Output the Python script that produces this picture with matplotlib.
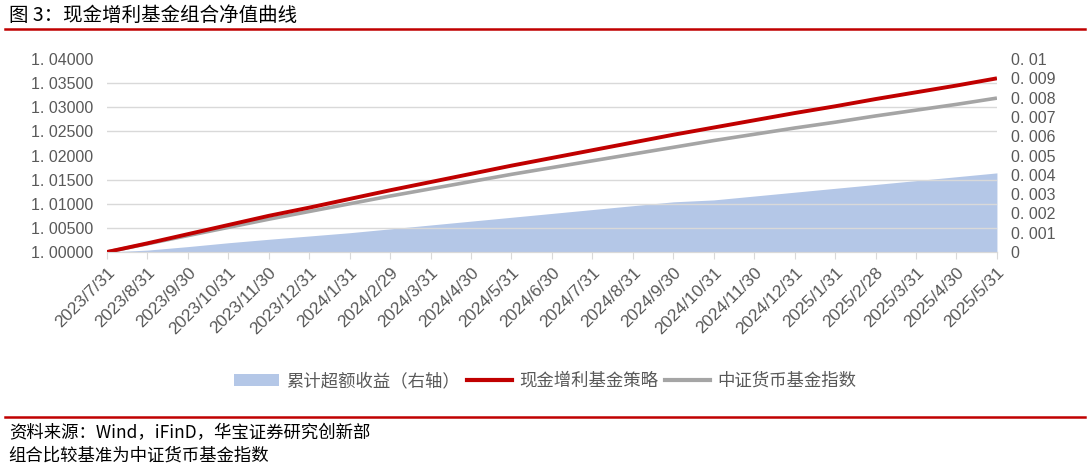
import matplotlib
matplotlib.use("Agg")
import matplotlib.pyplot as plt
from matplotlib.lines import Line2D
from matplotlib.patches import Patch
from matplotlib.ticker import FuncFormatter
import numpy as np

plt.rcParams['font.family'] = ['Liberation Sans', 'Noto Sans CJK SC', 'DejaVu Sans']
CJK = ['Noto Sans CJK SC', 'DejaVu Sans']

# month-end dates on the x axis
dates = ["2023/7/31", "2023/8/31", "2023/9/30", "2023/10/31", "2023/11/30",
         "2023/12/31", "2024/1/31", "2024/2/29", "2024/3/31", "2024/4/30",
         "2024/5/31", "2024/6/30", "2024/7/31", "2024/8/31", "2024/9/30",
         "2024/10/31", "2024/11/30", "2024/12/31", "2025/1/31", "2025/2/28",
         "2025/3/31", "2025/4/30", "2025/5/31"]

# net values (left axis)
strategy = [1.0000, 1.0018, 1.0037, 1.0056, 1.0075, 1.0092, 1.0110, 1.0128,
            1.0145, 1.0162, 1.0179, 1.0195, 1.0211, 1.0227, 1.0243, 1.0258,
            1.0273, 1.0288, 1.0302, 1.0317, 1.0331, 1.0345, 1.0360]
index = [1.0000, 1.0017, 1.0034, 1.0051, 1.0068, 1.0084, 1.0100, 1.0116,
         1.0131, 1.0146, 1.0161, 1.0175, 1.0189, 1.0203, 1.0217, 1.0231,
         1.0244, 1.0257, 1.0269, 1.0282, 1.0294, 1.0306, 1.0319]
# cumulative excess return (right axis)
excess = [0.0, 0.0001, 0.00028, 0.00048, 0.00066, 0.00083, 0.0010, 0.0012,
          0.0014, 0.0016, 0.0018, 0.0020, 0.0022, 0.0024, 0.0026, 0.0027,
          0.0029, 0.0031, 0.0033, 0.0035, 0.0037, 0.0039, 0.0041]

RED = '#C00000'
GRAY = '#A5A5A5'
BLUE = '#B4C7E7'
TXT = '#595959'

fig = plt.figure(figsize=(10.88, 4.68), dpi=100)
ax2 = fig.add_axes([0.0983, 0.4615, 0.818, 0.4124])
ax = ax2.twinx()
# left axis on the left, right axis on the right
ax.yaxis.tick_left()
ax2.yaxis.tick_right()
ax.set_zorder(ax2.get_zorder() + 1)
ax.patch.set_visible(False)

x = np.arange(len(dates))

ax2.fill_between(x, 0, excess, color=BLUE, lw=0)
ax2.set_ylim(0, 0.01)
ax2.set_yticks(np.linspace(0, 0.01, 11))
ax2.set_yticks(np.linspace(0, 0.01, 9), minor=True)
ax2.grid(which='minor', axis='y', color='#D9D9D9', lw=1)
ax2.tick_params(which='minor', length=0)
ax2.yaxis.set_major_formatter(FuncFormatter(
    lambda v, p: '0' if abs(v) < 1e-12 else f"{v:.3f}".rstrip('0').replace('.', '. ')))

ax.plot(x, index, color=GRAY, lw=2.6, solid_capstyle='butt')
ax.plot(x, strategy, color=RED, lw=2.8, solid_capstyle='butt')
ax.set_ylim(1.0, 1.04)
ax.set_yticks(np.linspace(1.0, 1.04, 9))
ax.yaxis.set_major_formatter(FuncFormatter(lambda v, p: f"{v:.5f}".replace('.', '. ')))

ax2.set_xlim(0, len(dates) - 1)
ax2.set_xticks(x)
ax2.set_xticklabels(dates, rotation=45, ha='right', va='top', rotation_mode='anchor')

for a in (ax, ax2):
    for s in ('top', 'left', 'right'):
        a.spines[s].set_visible(False)
    a.spines['bottom'].set_color('#D9D9D9')
ax2.tick_params(axis='x', direction='out', length=5, color='#D9D9D9',
                labelcolor=TXT, labelsize=12.5, pad=4)
ax2.tick_params(axis='y', which='major', length=0, labelcolor=TXT, labelsize=11.5, pad=10)
ax.tick_params(axis='y', length=0, labelcolor=TXT, labelsize=11.5, pad=10)

handles = [Patch(facecolor=BLUE, edgecolor='none'),
           Line2D([], [], color=RED, lw=3),
           Line2D([], [], color=GRAY, lw=3)]
labels = ['累计超额收益（右轴）', '现金增利基金策略', '中证货币基金指数']
fig.legend(handles, labels, loc='center', bbox_to_anchor=(0.501, 0.186), ncol=3,
           frameon=False, handlelength=2.6, handletextpad=0.4, columnspacing=0.4,
           prop={'family': CJK, 'size': 12.5}, labelcolor=TXT)

fig.text(0.008, 0.966, '图 3：现金增利基金组合净值曲线', family=CJK, fontsize=14,
         va='center', ha='left', color='black')
fig.add_artist(Line2D([0.005, 0.997], [0.937, 0.937], color=RED, lw=1.8,
                      transform=fig.transFigure))
fig.add_artist(Line2D([0.005, 0.997], [0.109, 0.109], color=RED, lw=1.8,
                      transform=fig.transFigure))
fig.text(0.008, 0.074, '资料来源：Wind，iFinD，华宝证券研究创新部', family=CJK,
         fontsize=12.5, va='center', ha='left', color='black')
fig.text(0.008, 0.027, '组合比较基准为中证货币基金指数', family=CJK,
         fontsize=12.5, va='center', ha='left', color='black')

fig.savefig('out.png', dpi=100)
